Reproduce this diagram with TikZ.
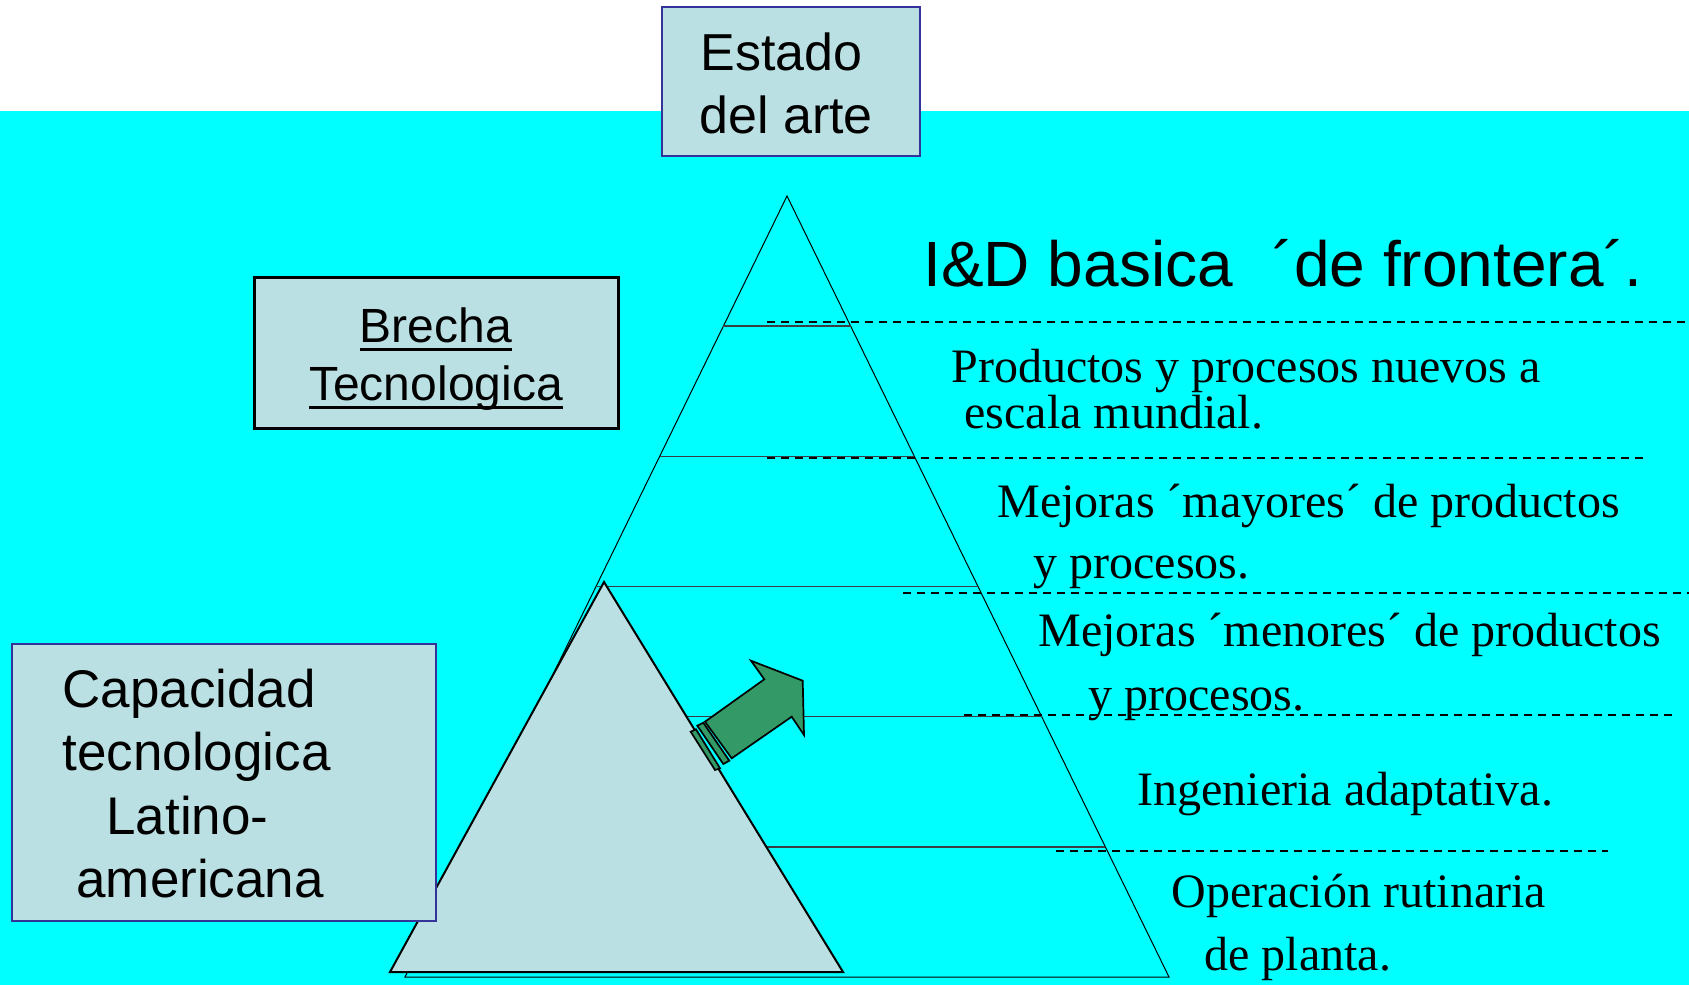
\documentclass[tikz,border=0pt]{standalone}
\usepackage{fontspec}
\setmainfont{Liberation Serif}
\newfontfamily\arialf{Liberation Sans}
\usetikzlibrary{calc}
\definecolor{cyanbg}{HTML}{00FFFF}
\definecolor{boxfill}{HTML}{BBE0E3}
\definecolor{boxblue}{HTML}{333399}
\definecolor{arrowgreen}{HTML}{339966}
\newcommand\myul[1]{\setbox0\hbox{#1}\rlap{\rule[-4.25pt]{\wd0}{1.5pt}}\box0}
\begin{document}
\begin{tikzpicture}[x=0.5pt,y=-0.5pt,
  txt/.style={inner sep=0pt, anchor=base west},
  serift/.style={txt, font=\fontsize{24pt}{28pt}\selectfont},
  sanstl/.style={txt, font=\arialf\fontsize{26pt}{30pt}\selectfont},
  pyr/.style={line width=0.5pt, black},
  levelline/.style={line width=0.8pt, black!85!cyan},
  dashline/.style={line width=1pt, dash pattern=on 4pt off 3pt},
  boxbase/.style={draw, fill=boxfill, inner sep=0pt},
]
\useasboundingbox (0,0) rectangle (1689,985);
\fill[white] (0,0) rectangle (1689,111);
\fill[cyanbg] (0,111) rectangle (1689,985);

% big pyramid
\coordinate (apex) at (787,196);
\coordinate (bl) at (405,977);
\coordinate (br) at (1169,977);
\draw[pyr] (bl) -- (apex) -- (br) -- cycle;
\foreach \k in {1,...,5}
  \draw[levelline] ($(apex)!\k/6!(bl)$) -- ($(apex)!\k/6!(br)$);

% dashed separators
\coordinate (d1a) at (767,322);  \coordinate (d1b) at (1689,322);
\coordinate (d2a) at (767,458);  \coordinate (d2b) at (1643,458);
\coordinate (d3a) at (903,593);  \coordinate (d3b) at (1689,593);
\coordinate (d4a) at (964,715);  \coordinate (d4b) at (1672,715);
\coordinate (d5a) at (1056,851); \coordinate (d5b) at (1608,851);
\foreach \i in {1,...,5} \draw[dashline] (d\i a) -- (d\i b);

% small triangle
\coordinate (sl) at (390,972);
\coordinate (sapex) at (604,582);
\coordinate (sr) at (843,972);
\draw[line width=1pt, fill=boxfill] (sl) -- (sapex) -- (sr) -- cycle;

% green block arrow
\draw[line width=0.85pt, fill=arrowgreen, line join=miter]
  (705,721.7) -- (764.3,679.3) -- (751,660.7) -- (802.7,680.7)
  -- (804,735) -- (791.7,716.7) -- (731.7,758.3) -- cycle;
\draw[line width=0.85pt, fill=arrowgreen]
  (697.3,725.7) -- (703.3,722.7) -- (729.3,760.7) -- (723.3,764) -- cycle;
\draw[line width=0.85pt, fill=arrowgreen]
  (690.7,731.7) -- (696,729.3) -- (720,768.3) -- (715,770) -- cycle;

% boxes
\node[boxbase, draw=boxblue, line width=1pt, minimum width=129pt, minimum height=74.5pt] (estado) at (791,81.5) {};
\node[boxbase, draw=black, line width=1.5pt, minimum width=182pt, minimum height=75.5pt] (brecha) at (436,352.5) {};
\node[boxbase, draw=boxblue, line width=0.8pt, minimum width=212pt, minimum height=138.5pt] (capac) at (224,782.5) {};

% box texts
\node[sanstl] (e1) at (700,70) {Estado};
\node[sanstl] (e2) at (699,133) {del arte};
\node[inner sep=0pt, anchor=base, font=\arialf\fontsize{24pt}{28pt}\selectfont] (b1) at (436,342) {\myul{Brecha}};
\node[inner sep=0pt, anchor=base, font=\arialf\fontsize{24pt}{28pt}\selectfont] (b2) at (436,400) {\myul{Tecnologica}};
\node[sanstl, font=\arialf\fontsize{26.5pt}{30pt}\selectfont] (c1) at (62,707) {Capacidad};
\node[sanstl, font=\arialf\fontsize{26.5pt}{30pt}\selectfont] (c2) at (62,770) {tecnologica};
\node[sanstl, font=\arialf\fontsize{26.5pt}{30pt}\selectfont] (c3) at (106,834) {Latino-};
\node[sanstl, font=\arialf\fontsize{26.5pt}{30pt}\selectfont] (c4) at (76,897) {americana};

% level texts
\node[txt, font=\arialf\fontsize{32pt}{36pt}\selectfont] (r1) at (923,286) {I\&D basica\hspace{20pt}´de frontera´.};
\node[serift] (r2) at (951,382) {Productos y procesos nuevos a};
\node[serift] (r3) at (964,428) {escala mundial.};
\node[serift] (r4) at (997,517) {Mejoras ´mayores´ de productos};
\node[serift] (r5) at (1033,578) {y procesos.};
\node[serift] (r6) at (1038,646) {Mejoras ´menores´ de productos};
\node[serift] (r7) at (1088,710) {y procesos.};
\node[serift] (r8) at (1137,805) {Ingenieria adaptativa.};
\node[serift] (r9) at (1171,907) {Operación rutinaria};
\node[serift] (r10) at (1204,970) {de planta.};
\end{tikzpicture}
\end{document}
